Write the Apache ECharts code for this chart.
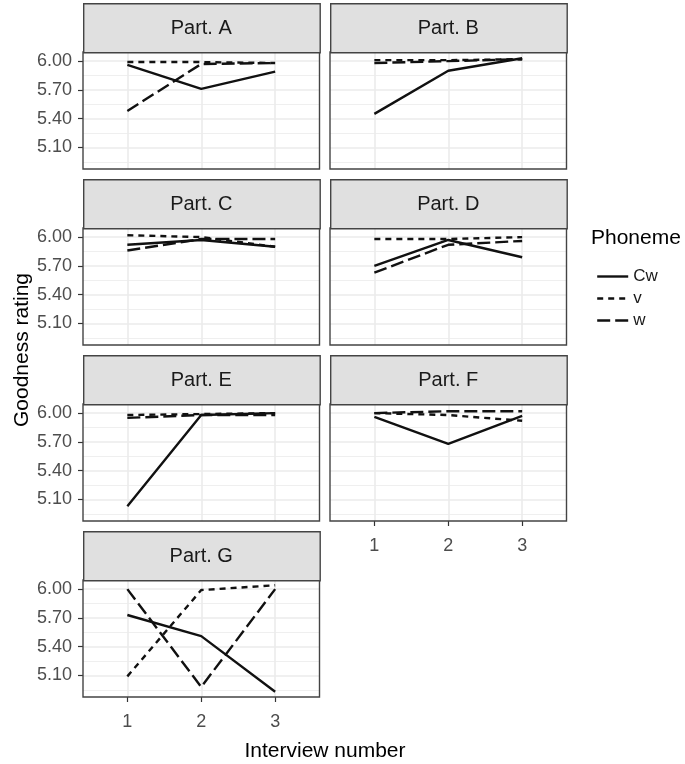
<!DOCTYPE html>
<html><head><meta charset="utf-8">
<script src="https://cdn.jsdelivr.net/npm/echarts@6/dist/echarts.min.js"></script>
<style>html,body{margin:0;padding:0;background:#fff}#c{width:685px;height:764px}</style>
</head><body><div id="c"></div>
<script>
// ---- data ----
const panels = ['Part. A', 'Part. B', 'Part. C', 'Part. D', 'Part. E', 'Part. F', 'Part. G'];
const interviews = [1, 2, 3];
const phonemes = ['Cw', 'v', 'w'];
const yTicks = [5.10, 5.40, 5.70, 6.00];
const yMinorTicks = [4.95, 5.25, 5.55, 5.85];
// ratings per panel (A..G), values at interviews 1,2,3
const cwRatings = [
  [5.96, 5.71, 5.89],
  [5.45, 5.90, 6.03],
  [5.92, 5.97, 5.90],
  [5.70, 5.97, 5.79],
  [5.03, 5.98, 6.00],
  [5.96, 5.68, 5.97],
  [5.73, 5.51, 4.93]
];
const vRatings = [
  [5.99, 5.99, 5.98],
  [6.01, 6.01, 6.02],
  [6.02, 6.00, 5.90],
  [5.98, 5.98, 6.00],
  [5.98, 5.99, 6.00],
  [6.00, 5.98, 5.92],
  [5.09, 5.99, 6.04]
];
const wRatings = [
  [5.48, 5.97, 5.98],
  [5.98, 6.00, 6.02],
  [5.86, 5.98, 5.98],
  [5.63, 5.92, 5.96],
  [5.95, 5.98, 5.98],
  [6.00, 6.02, 6.02],
  [6.00, 4.98, 6.00]
];

// ---- layout / style ----
const FONT = 'Liberation Sans, Arial, sans-serif';
const COL_LEFT = [83, 330];
const PANEL_W = 236.5;
const ROW_TOP = [3, 179, 355, 531];
const STRIP_H = 49;
const PLOT_H = 117;
const Y_MIN = 4.875, Y_MAX = 6.095;
const X_MIN = 0.4, X_MAX = 3.6;
const LINE_COLOR = '#111';
const dashFor = { Cw: 'solid', v: [6, 5], w: [13, 5] };
const dataFor = { Cw: cwRatings, v: vRatings, w: wRatings };

const grids = [], xAxes = [], yAxes = [], series = [], graphics = [];
panels.forEach((name, i) => {
  const col = i % 2, row = Math.floor(i / 2);
  const left = COL_LEFT[col], top = ROW_TOP[row];
  const isBottom = (i >= panels.length - 2);
  const isLeft = col === 0;
  grids.push({ left: left, top: top + STRIP_H, width: PANEL_W, height: PLOT_H,
    show: true, borderColor: '#444', borderWidth: 1.4, backgroundColor: 'transparent', z: 3 });
  xAxes.push({ type: 'value', gridIndex: i, min: X_MIN, max: X_MAX,
    axisLine: { show: false },
    axisTick: { show: isBottom, customValues: interviews, length: 5, lineStyle: { color: '#333', width: 1.2 } },
    axisLabel: { show: isBottom, customValues: interviews, margin: 16, fontSize: 18, color: '#4D4D4D', fontFamily: FONT },
    splitLine: { show: true, lineStyle: { color: '#EBEBEB', width: 1.6 } }
  });
  yAxes.push({ type: 'value', gridIndex: i, min: Y_MIN, max: Y_MAX,
    axisLine: { show: false },
    axisTick: { show: isLeft, customValues: yTicks, length: 5, lineStyle: { color: '#333', width: 1.2 } },
    axisLabel: { show: isLeft, customValues: yTicks, margin: 11, fontSize: 18, color: '#4D4D4D', fontFamily: FONT,
      formatter: v => v.toFixed(2) },
    splitLine: { show: true, lineStyle: { color: '#EBEBEB', width: 1.6 } }
  });
  yAxes.push({ type: 'value', gridIndex: i, min: Y_MIN, max: Y_MAX,
    axisLine: { show: false },
    axisTick: { show: false, customValues: yMinorTicks },
    axisLabel: { show: false },
    splitLine: { show: true, lineStyle: { color: '#EBEBEB', width: 0.8 } }
  });
  phonemes.forEach(p => {
    series.push({ name: p, type: 'line', xAxisIndex: i, yAxisIndex: 2 * i,
      symbol: 'none', silent: true, animation: false, z: 2,
      lineStyle: { color: LINE_COLOR, width: 2.4, type: dashFor[p], cap: 'butt' },
      itemStyle: { color: LINE_COLOR },
      data: interviews.map((x, k) => [x, dataFor[p][i][k]]) });
  });
  graphics.push({ type: 'rect', left: left, top: top, z: 10,
    shape: { width: PANEL_W, height: STRIP_H },
    style: { fill: '#E0E0E0', stroke: '#444', lineWidth: 1.4 } });
  graphics.push({ type: 'text', x: left + PANEL_W / 2, y: top + STRIP_H / 2 + 1, z: 11,
    style: { text: name, fill: '#1A1A1A', font: '20px ' + FONT, textAlign: 'center', textVerticalAlign: 'middle' } });
});

graphics.push({ type: 'text', x: 22, y: 350, rotation: Math.PI / 2, z: 11,
  style: { text: 'Goodness rating', fill: '#000', font: '21px ' + FONT, textAlign: 'center', textVerticalAlign: 'middle' } });
graphics.push({ type: 'text', x: 325, y: 751, z: 11,
  style: { text: 'Interview number', fill: '#000', font: '21px ' + FONT, textAlign: 'center', textVerticalAlign: 'middle' } });
graphics.push({ type: 'text', x: 591, y: 238, z: 11,
  style: { text: 'Phoneme', fill: '#000', font: '21px ' + FONT, textAlign: 'left', textVerticalAlign: 'middle' } });

const chart = echarts.init(document.getElementById('c'), null, { renderer: 'canvas' });
chart.setOption({
  backgroundColor: '#fff',
  animation: false,
  grid: grids,
  xAxis: xAxes,
  yAxis: yAxes,
  legend: { orient: 'vertical', left: 591, top: 263, itemWidth: 31, itemHeight: 14, itemGap: 5,
    selectedMode: false, data: phonemes,
    itemStyle: { opacity: 0 },
    lineStyle: { width: 2.4 },
    textStyle: { fontSize: 17, color: '#1A1A1A', fontFamily: FONT } },
  series: series,
  graphic: graphics
});
</script></body></html>
